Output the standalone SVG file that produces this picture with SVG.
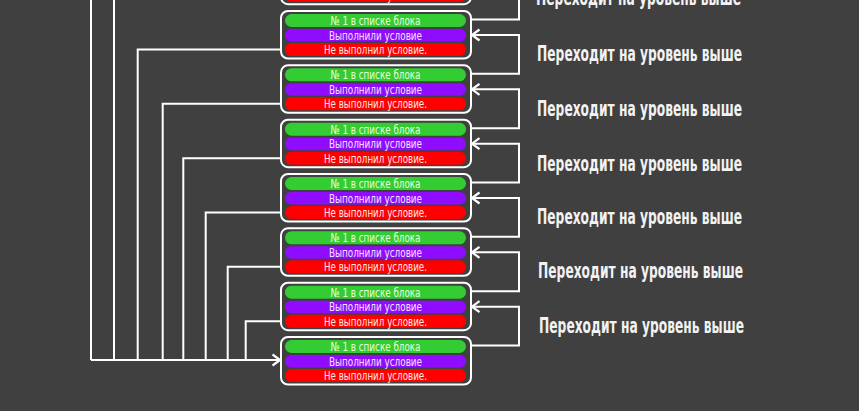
<svg xmlns="http://www.w3.org/2000/svg" width="859" height="411" viewBox="0 0 859 411">
<defs>
<style>
.bg{fill:#404040}
.outer{fill:#404040;stroke:#ffffff;stroke-width:2}
.g{fill:#33cc33}
.p{fill:#8f0cff}
.r{fill:#fe0000}
.t{font-family:"DejaVu Sans Condensed","Liberation Sans Narrow","Liberation Sans",sans-serif;font-size:12.5px;text-anchor:middle}
.tg{fill:#eaffdc}
.tp{fill:#f6e2ff}
.tr{fill:#ffe8e8}
.lbl{font-family:"DejaVu Sans Condensed","Liberation Sans Narrow","Liberation Sans",sans-serif;font-size:20.5px;font-weight:bold;fill:#f2f2f2}
.c{fill:none;stroke:#ffffff;stroke-width:2}
</style>
<marker id="arr" markerUnits="userSpaceOnUse" markerWidth="12" markerHeight="14" refX="8.5" refY="6" orient="auto" viewBox="0 0 12 12">
<path d="M1,0.5 L8.5,6 L1,11.5" fill="none" stroke="#ffffff" stroke-width="2.2"/>
</marker>
<g id="blk">
<rect class="outer" x="281" y="0" width="190" height="47.5" rx="7"/>
<rect class="g" x="285" y="3" width="181" height="13" rx="6.5"/>
<rect class="p" x="285" y="18" width="181" height="12.5" rx="6.2"/>
<rect class="r" x="285" y="32" width="181" height="13" rx="6.5"/>
<text class="t tg" x="375.5" y="14" textLength="90" lengthAdjust="spacingAndGlyphs">№ 1 в списке блока</text>
<text class="t tp" x="375.5" y="28.6" textLength="93" lengthAdjust="spacingAndGlyphs">Выполнили условие</text>
<text class="t tr" x="375.5" y="43" textLength="103" lengthAdjust="spacingAndGlyphs">Не выполнил условие.</text>
</g>
</defs>
<rect class="bg" x="0" y="0" width="859" height="411"/>
<g id="connectors">
<path class="c" d="M91,-10 V360"/>
<path class="c" d="M281,-4.8 H114 V360"/>
<path class="c" d="M281,49.5 H137.7 V360"/>
<path class="c" d="M281,103.8 H162.7 V360"/>
<path class="c" d="M281,158.2 H183.3 V360"/>
<path class="c" d="M281,212.5 H205.7 V360"/>
<path class="c" d="M281,266.8 H227.7 V360"/>
<path class="c" d="M281,321.2 H245.7 V360"/>
<path class="c" d="M91,360 H280" marker-end="url(#arr)"/>
<path class="c" d="M471,19.5 H519 V-19.3 H472" marker-end="url(#arr)"/>
<path class="c" d="M471,73.8 H519 V35 H472" marker-end="url(#arr)"/>
<path class="c" d="M471,128.2 H519 V89.3 H472" marker-end="url(#arr)"/>
<path class="c" d="M471,182.5 H519 V143.7 H472" marker-end="url(#arr)"/>
<path class="c" d="M471,236.8 H519 V198 H472" marker-end="url(#arr)"/>
<path class="c" d="M471,291.2 H519 V252.3 H472" marker-end="url(#arr)"/>
<path class="c" d="M471,345.5 H519 V306.7 H472" marker-end="url(#arr)"/>
</g>
<g id="block0"><use href="#blk" transform="translate(0,-43.3)"/></g>
<g id="block1"><use href="#blk" transform="translate(0,11)"/></g>
<g id="block2"><use href="#blk" transform="translate(0,65.3)"/></g>
<g id="block3"><use href="#blk" transform="translate(0,119.7)"/></g>
<g id="block4"><use href="#blk" transform="translate(0,174)"/></g>
<g id="block5"><use href="#blk" transform="translate(0,228.3)"/></g>
<g id="block6"><use href="#blk" transform="translate(0,282.7)"/></g>
<g id="block7"><use href="#blk" transform="translate(0,337)"/></g>
<g id="labels">
<text class="lbl" x="536" y="5" textLength="205" lengthAdjust="spacingAndGlyphs">Переходит на уровень выше</text>
<text class="lbl" x="537" y="60.5" textLength="205" lengthAdjust="spacingAndGlyphs">Переходит на уровень выше</text>
<text class="lbl" x="537" y="116" textLength="205" lengthAdjust="spacingAndGlyphs">Переходит на уровень выше</text>
<text class="lbl" x="537" y="170.5" textLength="205" lengthAdjust="spacingAndGlyphs">Переходит на уровень выше</text>
<text class="lbl" x="537" y="224" textLength="205" lengthAdjust="spacingAndGlyphs">Переходит на уровень выше</text>
<text class="lbl" x="538" y="277.5" textLength="205" lengthAdjust="spacingAndGlyphs">Переходит на уровень выше</text>
<text class="lbl" x="539" y="332.5" textLength="205" lengthAdjust="spacingAndGlyphs">Переходит на уровень выше</text>
</g>
</svg>
